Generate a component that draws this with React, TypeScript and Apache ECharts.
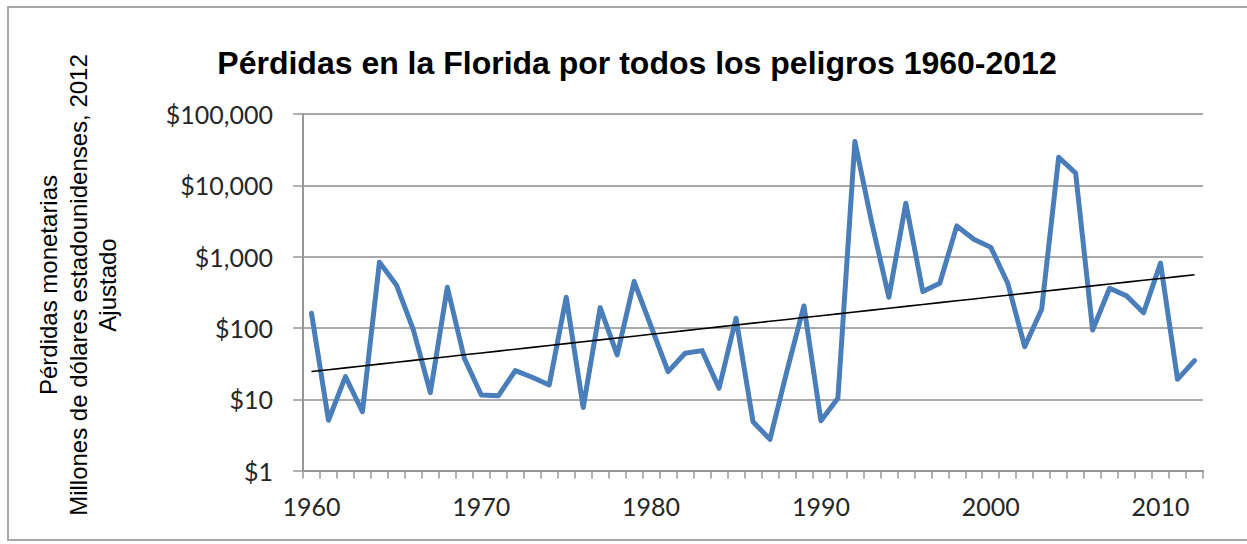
import React, { useEffect, useRef } from "react";
import * as echarts from "echarts";

const years: string[] = [];
for (let y = 1960; y <= 2012; y++) years.push(String(y));

// Losses in millions of 2012-adjusted US dollars
const losses: number[] = [
  161, 5.1, 20.8, 6.7, 837, 402, 94, 12.4, 373, 37.7,
  11.5, 11.2, 25.3, 20.4, 15.9, 270, 7.7, 193, 42, 448,
  105, 24.5, 44.3, 48.2, 14.3, 137, 4.87, 2.75, 25, 204,
  5.0, 10.4, 41100, 2950, 270, 5620, 324, 425, 2700, 1760,
  1360, 425, 54.8, 183, 24800, 14800, 94, 361, 282, 164,
  811, 19.1, 34.9,
];

const yTickValues: number[] = [1, 10, 100, 1000, 10000, 100000];

const titleText = "Pérdidas en la Florida por todos los peligros 1960-2012";
const yTitleLines: string[] = [
  "Pérdidas monetarias",
  "Millones de dólares estadounidenses, 2012",
  "Ajustado",
];

// Exponential trend line (least squares on log10 values), as Excel draws it
function exponentialTrend(vals: number[]): number[] {
  const n = vals.length;
  const logs = vals.map((v) => Math.log10(v));
  const mx = (n - 1) / 2;
  const my = logs.reduce((a, b) => a + b, 0) / n;
  let sxy = 0;
  let sxx = 0;
  for (let i = 0; i < n; i++) {
    sxy += (i - mx) * (logs[i] - my);
    sxx += (i - mx) * (i - mx);
  }
  const b = sxy / sxx;
  const a = my - b * mx;
  return vals.map((_, i) => Math.pow(10, a + b * i));
}

export default function App() {
  const ref = useRef<HTMLDivElement>(null);

  useEffect(() => {
    if (!ref.current) return;
    const chart = echarts.init(ref.current, undefined, { renderer: "svg" });
    const trend = exponentialTrend(losses);
    const gray = "#979797";
    const labelFont = "Lato, 'Open Sans', sans-serif";

    chart.setOption({
      animation: false,
      backgroundColor: "#ffffff",
      grid: { left: 303, right: 44, top: 114, bottom: 73.3, containLabel: false },
      xAxis: {
        type: "category",
        data: years,
        boundaryGap: true,
        axisLine: { show: true, lineStyle: { color: gray, width: 2 } },
        axisTick: { show: true, interval: 0, length: 8, lineStyle: { color: gray, width: 1.5 } },
        axisLabel: {
          interval: 9,
          margin: 23,
          fontSize: 25,
          fontFamily: labelFont,
          color: "#262626",
        },
        splitLine: { show: false },
      },
      yAxis: {
        type: "log",
        logBase: 10,
        min: yTickValues[0],
        max: yTickValues[yTickValues.length - 1],
        splitNumber: 5,
        axisLine: { show: true, lineStyle: { color: gray, width: 2 } },
        axisTick: { show: true, length: 10, lineStyle: { color: gray, width: 1.5 } },
        axisLabel: {
          margin: 30,
          fontSize: 25,
          fontFamily: labelFont,
          color: "#262626",
          formatter: (v: number) => "$" + Math.round(v).toLocaleString("en-US"),
        },
        splitLine: { show: true, lineStyle: { color: "#8e8e8e", width: 1.6 } },
        minorTick: { show: false },
        minorSplitLine: { show: false },
      },
      series: [
        {
          name: "Pérdidas",
          type: "line",
          data: losses,
          symbol: "none",
          lineStyle: { color: "#4a7ebb", width: 5, join: "round", cap: "round" },
          z: 2,
        },
        {
          name: "Tendencia",
          type: "line",
          data: trend,
          symbol: "none",
          lineStyle: { color: "#000000", width: 1.6 },
          z: 3,
        },
      ],
      graphic: [
        {
          type: "rect",
          shape: { x: 8, y: 7, width: 1250, height: 533 },
          style: { fill: "none", stroke: "#a8a8a8", lineWidth: 2 },
          silent: true,
          z: -10,
        },
        {
          type: "text",
          x: 637,
          y: 63,
          style: {
            text: titleText,
            font: "bold 32px 'Liberation Sans', Arial, sans-serif",
            fill: "#000000",
            textAlign: "center",
            textVerticalAlign: "middle",
          },
        },
        {
          type: "text",
          x: 78,
          y: 285,
          rotation: Math.PI / 2,
          style: {
            text: yTitleLines.join("\n"),
            font: "24px 'Liberation Sans', Arial, sans-serif",
            lineHeight: 29.5,
            fill: "#000000",
            textAlign: "center",
            textVerticalAlign: "middle",
          },
        },
      ],
    });

    return () => chart.dispose();
  }, []);

  return (
    <div
      ref={ref}
      style={{ position: "fixed", left: 0, top: 0, width: 1247, height: 544 }}
    />
  );
}
